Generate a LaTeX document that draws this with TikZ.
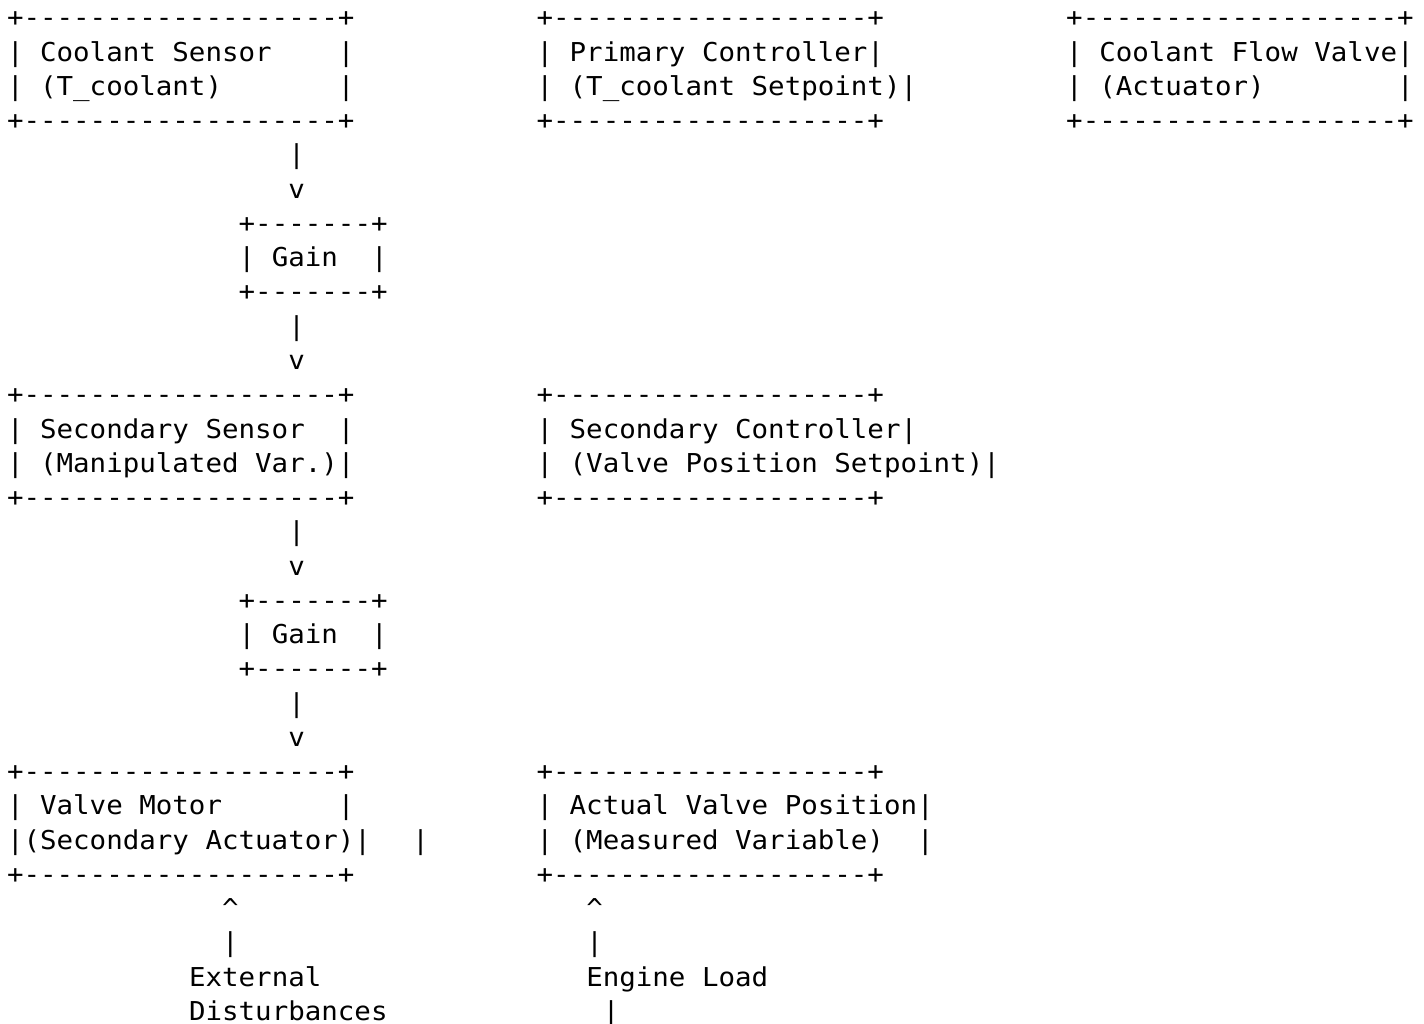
\documentclass[tikz,border=0pt]{standalone}
\usepackage{fontspec}
\setmonofont{DejaVu Sans Mono}[FakeStretch=1.057]
\frenchspacing
\tikzset{
  asciitxt/.style={anchor=base west, inner sep=0pt, outer sep=0pt,
    font=\ttfamily\fontsize{26}{30}\selectfont, text=black}
}
% place text at column #2, row #3
\newcommand\asc[4]{\node[asciitxt] (#1) at ({7+16.55*(#2)},{27+34.25*(#3)}) {#4};}
\newcommand\bline{+-------------------+}
\newcommand\gline{+-------+}
\begin{document}
\begin{tikzpicture}[x=1pt,y=-1pt]
\useasboundingbox[fill=white] (0,0) rectangle (1424,1024);
% row 0-3: top boxes
\asc{csT}{0}{0}{\bline}
\asc{pcT}{32}{0}{\bline}
\asc{cfT}{64}{0}{\bline}
\asc{cs1}{0}{1}{|~Coolant~Sensor~~~~|}
\asc{pc1}{32}{1}{|~Primary~Controller|}
\asc{cf1}{64}{1}{|~Coolant~Flow~Valve|}
\asc{cs2}{0}{2}{|~(T\_coolant)~~~~~~~|}
\asc{pc2}{32}{2}{|~(T\_coolant~Setpoint)|}
\asc{cf2}{64}{2}{|~(Actuator)~~~~~~~~|}
\asc{csB}{0}{3}{\bline}
\asc{pcB}{32}{3}{\bline}
\asc{cfB}{64}{3}{\bline}
% arrow to gain 1
\asc{a1}{17}{4}{|}
\asc{a1h}{17}{5}{v}
\asc{g1T}{14}{6}{\gline}
\asc{g1}{14}{7}{|~Gain~~|}
\asc{g1B}{14}{8}{\gline}
\asc{a2}{17}{9}{|}
\asc{a2h}{17}{10}{v}
% row 11-14
\asc{ssT}{0}{11}{\bline}
\asc{scT}{32}{11}{\bline}
\asc{ss1}{0}{12}{|~Secondary~Sensor~~|}
\asc{sc1}{32}{12}{|~Secondary~Controller|}
\asc{ss2}{0}{13}{|~(Manipulated~Var.)|}
\asc{sc2}{32}{13}{|~(Valve~Position~Setpoint)|}
\asc{ssB}{0}{14}{\bline}
\asc{scB}{32}{14}{\bline}
% arrow to gain 2
\asc{a3}{17}{15}{|}
\asc{a3h}{17}{16}{v}
\asc{g2T}{14}{17}{\gline}
\asc{g2}{14}{18}{|~Gain~~|}
\asc{g2B}{14}{19}{\gline}
\asc{a4}{17}{20}{|}
\asc{a4h}{17}{21}{v}
% row 22-25
\asc{vmT}{0}{22}{\bline}
\asc{avT}{32}{22}{\bline}
\asc{vm1}{0}{23}{|~Valve~Motor~~~~~~~|}
\asc{av1}{32}{23}{|~Actual~Valve~Position|}
\asc{vm2}{0}{24}{|(Secondary~Actuator)|}
\asc{stray}{24.5}{24}{|}
\asc{av2}{32}{24}{|~(Measured~Variable)~~|}
\asc{vmB}{0}{25}{\bline}
\asc{avB}{32}{25}{\bline}
% disturbances
\asc{e1h}{13}{26}{\textasciicircum}
\asc{e2h}{35}{26}{\textasciicircum}
\asc{e1}{13}{27}{|}
\asc{e2}{35}{27}{|}
\asc{ext1}{11}{28}{External}
\asc{eng}{35}{28}{Engine~Load}
\asc{ext2}{11}{29}{Disturbances}
\asc{e3}{36}{29}{|}
\end{tikzpicture}
\end{document}
